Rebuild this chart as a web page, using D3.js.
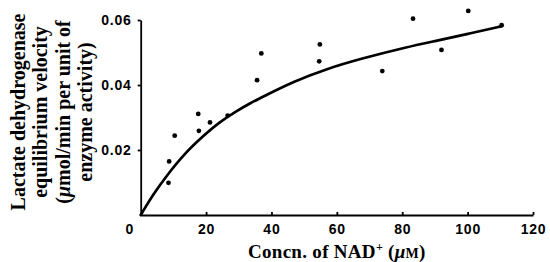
<!DOCTYPE html>
<html>
<head>
<meta charset="utf-8">
<script src="https://cdn.jsdelivr.net/npm/d3@7"></script>
<style>
    body { margin: 0; background: #fff; }
    .tick-label { font-family: 'Liberation Sans', Arial, sans-serif; font-weight: bold; font-size: 14px; letter-spacing: 0.8px; }
    .title { font-family: 'Liberation Serif', 'Times New Roman', serif; font-weight: bold; }
</style>
</head>
<body>
<div id="chart"></div>
<script>
// Measured points: NAD+ concentration (uM) and velocity
const concn = [8.5, 8.7, 10.4, 17.6, 17.8, 21.2, 26.6, 35.6, 36.9, 54.6, 54.8, 73.9, 83.3, 92.0, 100.2, 110.4]
const velocity = [0.0099, 0.0165, 0.0244, 0.0311, 0.0259, 0.0285, 0.0306, 0.0415, 0.0497, 0.0473, 0.0525, 0.0443, 0.0604, 0.0508, 0.0628, 0.0584]

// Fitted curve
const curveX = [0, 4, 8, 13.5, 19, 24, 29, 34, 37, 47, 57, 67, 82, 90, 100, 110.5]
const curveY = [0, 0.0066, 0.0122, 0.019, 0.0242, 0.0285, 0.0318, 0.0347, 0.0362, 0.0412, 0.0450, 0.0480, 0.0518, 0.0535, 0.0557, 0.0581]

const xTicks = [20, 40, 60, 80, 100, 120]
const yTicks = [0.02, 0.04, 0.06]

const chartWidth = 550
const chartHeight = 262
const plotLeft = 140.7
const plotRight = 533
const plotTop = 20
const plotBottom = 215

let svg = d3.select('#chart')
            .append('svg')
            .attr('width', chartWidth)
            .attr('height', chartHeight)

// Scales
let xScale = d3.scaleLinear().domain([0, 120]).range([plotLeft, plotRight])
let yScale = d3.scaleLinear().domain([0, 0.06]).range([plotBottom, plotTop])

// Axes
let xAxis = d3.axisBottom(xScale)
    .tickValues(xTicks)
    .tickSizeInner(-3)
    .tickSizeOuter(0)
    .tickPadding(9)

let yAxis = d3.axisLeft(yScale)
    .tickValues(yTicks)
    .tickSizeInner(3)
    .tickSizeOuter(0)
    .tickPadding(6)
    .tickFormat(d3.format('.2f'))

svg.append('g')
    .attr('transform', 'translate(0,' + plotBottom + ')')
    .call(xAxis)

svg.append('g')
    .attr('transform', 'translate(' + plotLeft + ',0)')
    .call(yAxis)

svg.selectAll('.domain, .tick line')
    .attr('stroke', '#000')
    .attr('stroke-width', 1.8)

svg.selectAll('.tick text')
    .attr('class', 'tick-label')
    .attr('fill', '#000')
    .attr('font-size', null)
    .attr('font-family', null)

// shared origin label
svg.append('text')
    .attr('class', 'tick-label')
    .attr('x', xScale(0) - 11)
    .attr('y', plotBottom + 19)
    .attr('text-anchor', 'middle')
    .text('0')

// Fitted curve
let line = d3.line()
    .x((d) => xScale(d[0]))
    .y((d) => yScale(d[1]))
    .curve(d3.curveBasis)

svg.append('path')
    .datum(curveX.map((x, i) => [x, curveY[i]]))
    .attr('d', line)
    .attr('fill', 'none')
    .attr('stroke', '#000')
    .attr('stroke-width', 2.7)
    .attr('stroke-linecap', 'round')

// Data points
svg.append('g').selectAll('circle')
    .data(concn)
    .enter()
    .append('circle')
    .attr('cx', (d) => xScale(d))
    .attr('cy', (d, i) => yScale(velocity[i]))
    .attr('r', 2.4)
    .attr('fill', '#000')

// X axis title
let xt = svg.append('text')
    .attr('class', 'title')
    .attr('font-size', '19px')
    .attr('letter-spacing', '0.3px')
    .attr('x', (plotLeft + plotRight) / 2)
    .attr('y', 258)
    .attr('text-anchor', 'middle')
xt.append('tspan').text('Concn. of NAD')
xt.append('tspan').attr('font-size', '12px').attr('dy', -7).text('+')
xt.append('tspan').attr('dy', 7).text(' (')
xt.append('tspan').attr('font-style', 'italic').text('μ')
xt.append('tspan').attr('font-size', '14px').text('M')
xt.append('tspan').text(')')

// Y axis title, four lines
let yt = svg.append('g')
    .attr('transform', 'translate(0,112) rotate(-90)')

const yTitle = ['Lactate dehydrogenase', 'equilibrium velocity', null, 'enzyme activity)']
yTitle.forEach((t, i) => {
    let txt = yt.append('text')
        .attr('class', 'title')
        .attr('font-size', '20px')
        .attr('x', 0)
        .attr('y', 25 + i * 22.3)
        .attr('text-anchor', 'middle')
    if (t === null) {
        txt.append('tspan').text('(')
        txt.append('tspan').attr('font-style', 'italic').text('μ')
        txt.append('tspan').text('mol/min per unit of')
    } else {
        txt.text(t)
    }
})
</script>
</body>
</html>
